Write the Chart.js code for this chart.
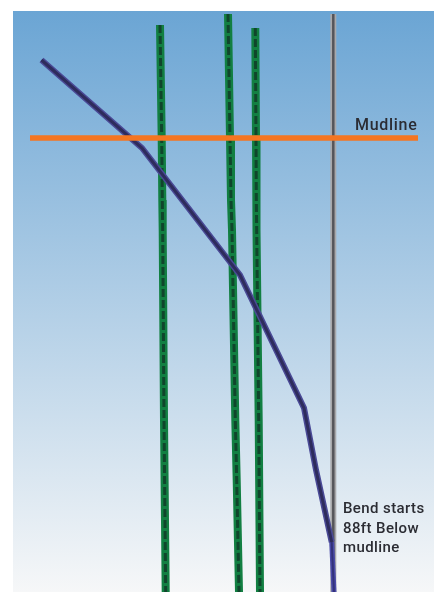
<!DOCTYPE html>
<html>
<head>
<meta charset="utf-8">
<style>
  html, body { margin: 0; padding: 0; background: #fff; }
  #wrap { position: absolute; left: 13px; top: 11px; width: 421px; height: 581px; }
  #chart { background: linear-gradient(to bottom, #6ba5d4, #f6f7f8); }
</style>
</head>
<body>
<div id="wrap"><canvas id="chart" width="421" height="581"></canvas></div>
<script src="https://cdn.jsdelivr.net/npm/chart.js@4/dist/chart.umd.min.js"></script>
<script>
// Values, x across and depth down
const pile1X = [160, 161.7, 162.3, 162.7, 164, 165.7];
const pile1Depth = [25, 138, 200, 230, 420, 592];
const pile2X = [228, 230, 231, 232, 235.3, 236.7, 239];
const pile2Depth = [14, 138, 200, 230, 420, 480, 592];
const pile3X = [255.3, 256, 256.3, 256.7, 258.7, 260];
const pile3Depth = [28, 138, 200, 230, 420, 592];
const casingX = [333.3, 333.3];
const casingDepth = [14, 592];
const wellX = [41.5, 142, 240, 304, 316, 331.7];
const wellDepth = [60, 148, 275, 408, 470, 542];
const wellTailX = [331.7, 334];
const wellTailDepth = [542, 592];
const mudlineX = [30, 418];
const mudlineDepth = [138, 138];

const mudlineLabel = 'Mudline';
const bendLabel = ['Bend starts', '88ft Below', 'mudline'];
const bendLabelDepth = [513, 533, 552];

function pts(xs, ys) {
    return xs.map((x, i) => ({ x: x, y: ys[i] }));
}

function line(xs, ys, color, width, dash) {
    return {
        data: pts(xs, ys),
        borderColor: color,
        borderWidth: width,
        borderDash: dash || [],
        pointRadius: 0,
        showLine: true,
        tension: 0,
        borderCapStyle: 'butt'
    };
}

// Text labels sit on the same scales as the lines
const labels = {
    id: 'labels',
    afterDatasetsDraw(chart) {
        const ctx = chart.ctx;
        const sx = chart.scales.x;
        const sy = chart.scales.y;
        ctx.save();
        ctx.fillStyle = '#2b2c33';
        ctx.textBaseline = 'alphabetic';
        ctx.font = '500 16px Roboto';
        ctx.letterSpacing = '0.7px';
        ctx.fillText(mudlineLabel, sx.getPixelForValue(355), sy.getPixelForValue(130));
        ctx.font = '500 15px Roboto';
        ctx.letterSpacing = '0.4px';
        bendLabel.forEach((t, i) => {
            ctx.fillText(t, sx.getPixelForValue(343), sy.getPixelForValue(bendLabelDepth[i]));
        });
        ctx.restore();
    }
};

// First dataset ends up on top in Chart.js
new Chart(document.getElementById('chart').getContext('2d'), {
    type: 'scatter',
    data: {
        datasets: [
            line(mudlineX, mudlineDepth, '#f47521', 5.5),
            line(wellX, wellDepth, '#2e2c5c', 3),
            line(wellTailX, wellTailDepth, '#33327a', 2),
            line(wellX, wellDepth, '#4a4a96', 6),
            line(wellTailX, wellTailDepth, '#4a4aa8', 5),
            line(pile1X, pile1Depth, '#10452c', 3, [8, 3]),
            line(pile1X, pile1Depth, '#127f42', 8),
            line(pile2X, pile2Depth, '#10452c', 3, [8, 3]),
            line(pile2X, pile2Depth, '#127f42', 8),
            line(pile3X, pile3Depth, '#10452c', 3, [8, 3]),
            line(pile3X, pile3Depth, '#127f42', 8),
            line(casingX, casingDepth, '#55555a', 2.5),
            line(casingX, casingDepth, '#a8a8aa', 6)
        ]
    },
    options: {
        responsive: false,
        animation: false,
        layout: { padding: 0 },
        plugins: {
            legend: { display: false },
            tooltip: { enabled: false }
        },
        scales: {
            x: { type: 'linear', min: 13, max: 434, display: false },
            y: { type: 'linear', min: 11, max: 592, reverse: true, display: false }
        }
    },
    plugins: [labels]
});
</script>
</body>
</html>
